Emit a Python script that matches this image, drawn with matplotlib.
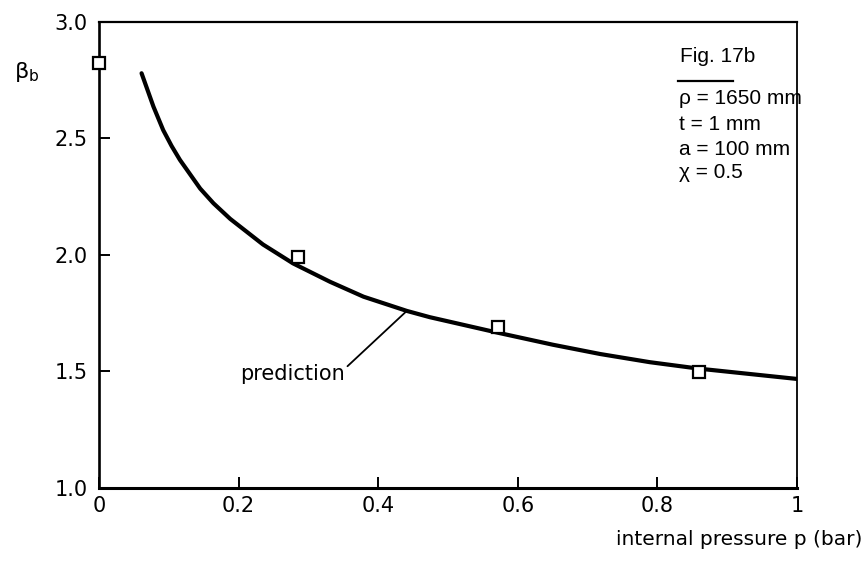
import matplotlib
matplotlib.use('Agg')
import matplotlib.pyplot as plt

# measured points (open squares)
p_meas = [0.0, 0.285, 0.572, 0.86]
beta_meas = [2.824, 1.99, 1.69, 1.498]

# prediction curve
p_pred = [0.061, 0.078, 0.092, 0.104, 0.116, 0.145, 0.164, 0.188, 0.235,
          0.278, 0.331, 0.379, 0.441, 0.474, 0.572, 0.65, 0.718, 0.789,
          0.86, 1.0]
beta_pred = [2.780, 2.637, 2.536, 2.468, 2.408, 2.285, 2.222, 2.155, 2.045,
             1.964, 1.885, 1.821, 1.760, 1.733, 1.666, 1.615, 1.575, 1.540,
             1.512, 1.468]

x_ticks = [0, 0.2, 0.4, 0.6, 0.8, 1.0]
x_labels = ['0', '0.2', '0.4', '0.6', '0.8', '1']
y_ticks = [1.0, 1.5, 2.0, 2.5, 3.0]
y_labels = ['1.0', '1.5', '2.0', '2.5', '3.0']

info_lines = ['ρ = 1650 mm', 't = 1 mm', 'a = 100 mm', 'χ = 0.5']

plt.rcParams['font.family'] = ['DejaVu Sans']
plt.rcParams['font.size'] = 15

box_font = ['Liberation Sans Narrow', 'Liberation Sans', 'DejaVu Sans']

fig = plt.figure(figsize=(8.63, 5.70), dpi=100)
ax = fig.add_axes([0.1147, 0.1439, 0.8088, 0.8175])

ax.plot(p_pred, beta_pred, color='black', lw=3.0, solid_capstyle='round',
        solid_joinstyle='round', zorder=2)
ax.plot(p_meas, beta_meas, linestyle='none', marker='s', markersize=9,
        markerfacecolor='white', markeredgecolor='black', markeredgewidth=1.6,
        clip_on=False, zorder=3)

ax.set_xlim(0, 1)
ax.set_ylim(1.0, 3.0)
ax.set_xticks(x_ticks)
ax.set_xticklabels(x_labels)
ax.set_yticks(y_ticks)
ax.set_yticklabels(y_labels)
ax.tick_params(direction='in', length=8, width=1.4, color='black', labelsize=15)
ax.tick_params(axis='x', pad=6)
ax.tick_params(axis='y', pad=8)

for side, w in [('bottom', 2.2), ('left', 1.9), ('top', 1.6), ('right', 1.3)]:
    ax.spines[side].set_linewidth(w)

# axis labels
fig.text(0.999, 0.053, 'internal pressure p (bar)', ha='right', va='center', fontsize=14.5)
fig.text(0.016, 0.873, r'$\mathregular{\beta_b}$', ha='left', va='center', fontsize=16)

# annotation for the prediction curve
ax.annotate('prediction', xy=(0.441, 1.760), xytext=(0.277, 1.49),
            ha='center', va='center', fontsize=15,
            arrowprops=dict(arrowstyle='-', color='black', lw=1.3,
                            shrinkA=0, shrinkB=0, relpos=(1.0, 0.75)))

# parameter box
ax.text(0.833, 0.925, 'Fig. 17b', transform=ax.transAxes, ha='left', va='center',
        fontsize=15, family=box_font)
ax.plot([0.829, 0.908], [0.873, 0.873], transform=ax.transAxes, color='black', lw=1.6)
ys = [0.835, 0.781, 0.727, 0.676]
for s, y in zip(info_lines, ys):
    ax.text(0.831, y, s, transform=ax.transAxes, ha='left', va='center',
            fontsize=15, family=box_font)

fig.savefig('out.png', dpi=100)
